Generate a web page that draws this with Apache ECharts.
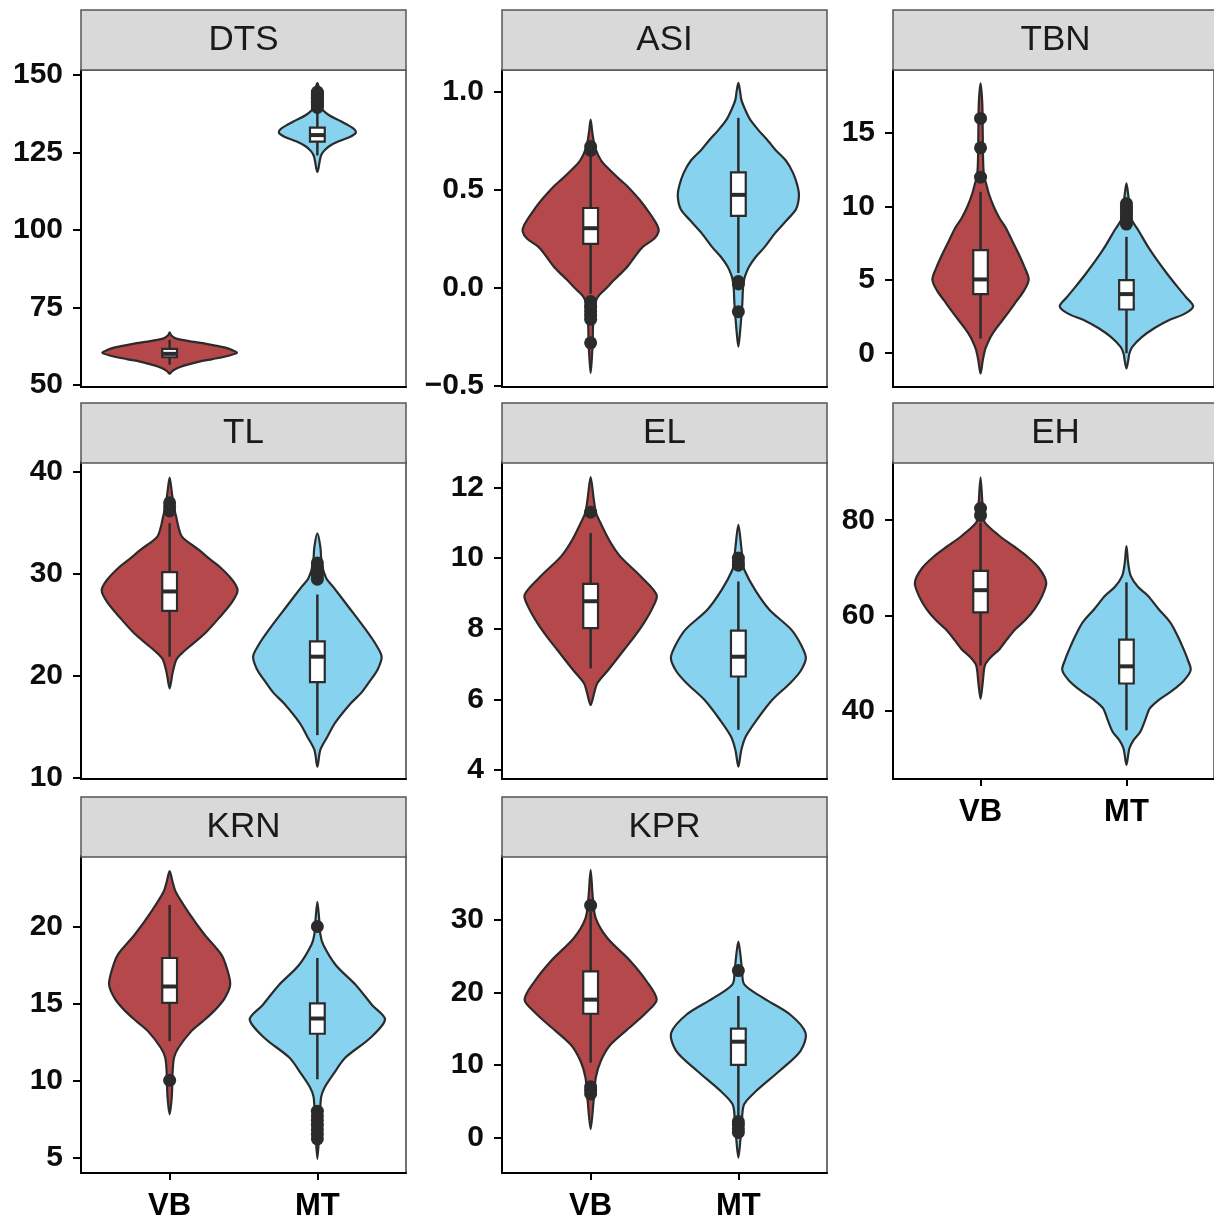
<!DOCTYPE html>
<html>
<head>
<meta charset="utf-8">
<title>Violin panels</title>
<script src="https://cdn.jsdelivr.net/npm/echarts@6.0.0/dist/echarts.min.js"></script>
<style>
  body { margin: 0; background: #fff; }
  #chart { width: 1214px; height: 1222px; }
</style>
</head>
<body>
<div id="chart"></div>
<script>
// panels and groups
const panelNames = ['DTS', 'ASI', 'TBN', 'TL', 'EL', 'EH', 'KRN', 'KPR'];
const groupNames = ['VB', 'MT'];

// y axis ticks and ranges per panel
const yTicks = [
  [50, 75, 100, 125, 150],
  [-0.5, 0, 0.5, 1],
  [0, 5, 10, 15],
  [10, 20, 30, 40],
  [4, 6, 8, 10, 12],
  [40, 60, 80],
  [5, 10, 15, 20],
  [0, 10, 20, 30]
];
const yTickLabels = [
  ['50', '75', '100', '125', '150'],
  ['\u22120.5', '0.0', '0.5', '1.0'],
  ['0', '5', '10', '15'],
  ['10', '20', '30', '40'],
  ['4', '6', '8', '10', '12'],
  ['40', '60', '80'],
  ['5', '10', '15', '20'],
  ['0', '10', '20', '30']
];
const yMin = [49.3, -0.505, -2.3, 9.9, 3.75, 25.8, 3.98, -4.9];
const yMax = [151.6, 1.11, 19.3, 41.0, 12.72, 92.2, 24.58, 38.8];

// violin outlines: [value, half width in category units], top to bottom
const vbViolins = [
  [[66.9,0],[66,0.01],[65,0.04],[64.2,0.12],[63.2,0.25],[62.1,0.37],[61.1,0.43],[60.3,0.455],[59.4,0.4],[58.3,0.29],[57.5,0.2],[56.7,0.135],[55.9,0.08],[55.1,0.04],[54.3,0.015],[53.6,0]],
  [[0.857,0],[0.8,0.01],[0.75,0.02],[0.704,0.035],[0.65,0.07],[0.6,0.13],[0.55,0.2],[0.517,0.25],[0.45,0.33],[0.38,0.4],[0.32,0.45],[0.287,0.46],[0.25,0.43],[0.21,0.355],[0.16,0.3],[0.109,0.25],[0.07,0.2],[0.041,0.16],[-0.01,0.095],[-0.044,0.05],[-0.08,0.03],[-0.14,0.022],[-0.2,0.016],[-0.28,0.014],[-0.36,0.008],[-0.434,0]],
  [[18.39,0],[17,0.012],[15,0.015],[13,0.018],[12,0.025],[11.5,0.04],[10.9,0.056],[10,0.09],[9.2,0.13],[8.6,0.17],[7.7,0.215],[6.8,0.26],[5.9,0.3],[5.03,0.33],[4.3,0.3],[3.6,0.25],[2.9,0.2],[2.25,0.15],[1.6,0.1],[1.1,0.068],[0.6,0.045],[0.2,0.03],[-0.5,0.015],[-1.38,0]],
  [[39.48,0],[38,0.015],[37,0.025],[36.2,0.035],[35.6,0.045],[34.6,0.06],[33.65,0.085],[32.35,0.2],[31.5,0.27],[30.7,0.34],[29.5,0.42],[28.43,0.46],[27.2,0.42],[25.8,0.34],[24.2,0.24],[22.9,0.135],[22.2,0.08],[21.6,0.045],[20.3,0.02],[18.8,0]],
  [[12.29,0],[11.7,0.02],[11.3,0.035],[11.09,0.056],[10.52,0.124],[10.05,0.2],[9.48,0.34],[8.96,0.447],[8.6,0.42],[8.16,0.36],[7.8,0.3],[7.4,0.225],[6.84,0.12],[6.46,0.045],[6.2,0.025],[5.84,0]],
  [[89,0],[84,0.012],[81,0.02],[79.5,0.03],[76.7,0.13],[74.5,0.23],[72.5,0.316],[70,0.4],[67,0.45],[64,0.42],[61.4,0.37],[59.2,0.31],[57.2,0.24],[55,0.18],[53,0.13],[51.3,0.07],[49.6,0.03],[46,0.015],[42.6,0]],
  [[23.6,0],[22.9,0.02],[22.27,0.04],[20.97,0.124],[19.46,0.237],[18.17,0.35],[17.2,0.39],[16.22,0.41],[15.3,0.37],[14.5,0.3],[13.8,0.22],[13.2,0.147],[12.12,0.06],[11.48,0.03],[10.5,0.02],[9,0.015],[7.8,0]],
  [[36.9,0],[33,0.015],[30.2,0.035],[27.5,0.113],[24.3,0.27],[21.5,0.38],[19,0.447],[17.3,0.38],[15.6,0.29],[12.8,0.135],[10.5,0.068],[8.25,0.035],[5,0.02],[1.15,0]]
];
const mtViolins = [
  [[147.4,0],[146,0.01],[144,0.015],[142,0.02],[140,0.025],[138.5,0.04],[137,0.08],[135.5,0.14],[134,0.2],[132.5,0.25],[131.3,0.26],[130,0.22],[128.5,0.14],[127,0.08],[125.5,0.045],[124,0.025],[122,0.015],[120,0.008],[118.7,0]],
  [[1.044,0],[1.0,0.012],[0.959,0.02],[0.91,0.045],[0.857,0.08],[0.8,0.14],[0.75,0.2],[0.704,0.25],[0.65,0.32],[0.586,0.37],[0.52,0.4],[0.466,0.41],[0.4,0.39],[0.347,0.33],[0.28,0.25],[0.21,0.18],[0.16,0.12],[0.109,0.073],[0.06,0.045],[0.024,0.035],[-0.02,0.03],[-0.061,0.028],[-0.1,0.025],[-0.147,0.02],[-0.22,0.012],[-0.3,0]],
  [[11.57,0],[10.8,0.012],[10,0.02],[9.2,0.03],[8.4,0.08],[7.3,0.145],[6.34,0.21],[5.4,0.28],[4.52,0.35],[3.8,0.41],[3.2,0.457],[2.7,0.4],[2.25,0.29],[1.7,0.19],[1.11,0.107],[0.43,0.04],[-0.02,0.02],[-0.5,0.012],[-1.04,0]],
  [[34,0],[32.7,0.02],[31,0.03],[29.6,0.06],[28.75,0.107],[26.8,0.21],[24.5,0.33],[23,0.4],[21.9,0.435],[20.7,0.41],[19.6,0.36],[18.4,0.3],[17.3,0.225],[15.4,0.12],[14.05,0.068],[12.75,0.02],[11.1,0]],
  [[10.94,0],[10.3,0.02],[9.9,0.03],[9.67,0.04],[9.1,0.113],[8.54,0.21],[7.97,0.36],[7.5,0.43],[7.17,0.457],[6.8,0.42],[6.46,0.35],[5.99,0.23],[5.42,0.124],[4.95,0.05],[4.57,0.02],[4.1,0]],
  [[74.6,0],[71,0.012],[68.3,0.03],[66,0.08],[64.2,0.147],[61.4,0.22],[58.6,0.3],[55.8,0.35],[53.1,0.39],[50.8,0.42],[48.6,0.44],[46.3,0.39],[44,0.3],[42.3,0.22],[40.6,0.16],[38.3,0.13],[35.7,0.095],[34,0.05],[32.2,0.02],[28.75,0]],
  [[21.6,0],[20.5,0.012],[19.5,0.02],[18.81,0.04],[17.5,0.124],[16.2,0.26],[14.9,0.37],[13.96,0.458],[12.77,0.36],[11.48,0.19],[10.4,0.108],[9.55,0.05],[8.9,0.025],[7,0.015],[4.9,0]],
  [[27,0],[25,0.015],[23,0.025],[21.1,0.04],[19.2,0.17],[16.95,0.35],[14.4,0.455],[11.9,0.42],[9.2,0.28],[6.4,0.12],[4.6,0.04],[2.76,0.025],[0,0.015],[-2.8,0]]
];

// boxplot stats: [lower whisker, q1, median, q3, upper whisker]
const vbBoxes = [
  [56.5, 58.9, 60, 61.6, 64.5],
  [-0.03, 0.224, 0.304, 0.407, 0.69],
  [1, 4.03, 5.03, 7.02, 11],
  [21.9, 26.4, 28.3, 30.2, 35],
  [6.88, 8.02, 8.78, 9.27, 10.71],
  [49.6, 60.7, 65.35, 69.4, 79.5],
  [12.55, 15.04, 16.1, 17.95, 21.4],
  [10.3, 17.05, 19.0, 22.9, 31.1]
];
const mtBoxes = [
  [124, 128.5, 130.6, 133, 138.3],
  [0.076, 0.367, 0.474, 0.588, 0.866],
  [0, 2.98, 4.03, 4.98, 7.93],
  [14.2, 19.4, 21.9, 23.4, 28],
  [5.14, 6.65, 7.21, 7.95, 9.34],
  [36, 45.8, 49.4, 55, 67],
  [10.07, 13.03, 14.02, 15.0, 17.95],
  [2.5, 10.0, 13.2, 15.0, 19.5]
];

// outliers
const vbOutliers = [
  [],
  [0.7, 0.72, -0.07, -0.09, -0.1, -0.12, -0.14, -0.16, -0.28],
  [12, 14, 16],
  [36.2, 36.6, 37],
  [11.3],
  [81, 82.5],
  [10],
  [32, 7, 6.5, 6]
];
const mtOutliers = [
  [139.5, 140, 140.5, 141, 141.5, 142, 142.5, 143, 143.5, 144, 144.5],
  [0.032, 0.02, -0.121],
  [8.8, 9, 9.2, 9.4, 9.6, 9.8, 10, 10.2],
  [29.5, 29.9, 30.3, 30.7, 31.1],
  [9.8, 9.9, 10],
  [],
  [20, 8, 7.7, 7.4, 7.1, 6.8, 6.5, 6.2],
  [23, 2.2, 1.7, 1.2, 0.7]
];

const fills = ['#b4484a', '#87d3ef'];
const ink = '#2b2b2b';
const font = '"Liberation Sans", Arial, sans-serif';

// layout
const colLeft = [81, 502, 893];
const stripTop = [10, 403, 797];
const plotTop = [70, 462, 856];
const plotHeight = [317, 317, 318];
const panelWidth = 325;
const stripHeight = 60;
const bottomPanels = [5, 6, 7];

const chart = echarts.init(document.getElementById('chart'));

const grids = [], xAxes = [], yAxes = [], series = [], graphics = [];

panelNames.forEach(function (name, i) {
  const row = Math.floor(i / 3), col = i % 3;
  const isBottom = bottomPanels.indexOf(i) >= 0;
  const axisLine = { color: '#000', width: 2 };

  grids.push({
    left: colLeft[col], top: plotTop[row], width: panelWidth, height: plotHeight[row],
    show: true, borderColor: '#444', borderWidth: 1.5, backgroundColor: '#fff'
  });

  xAxes.push({
    gridIndex: i, type: 'value', min: 0.4, max: 2.6,
    axisLine: { show: true, onZero: false, lineStyle: axisLine },
    splitLine: { show: false },
    axisTick: { show: isBottom, customValues: [1, 2], length: 7, lineStyle: axisLine },
    axisLabel: {
      show: isBottom, customValues: [1, 2], margin: 18,
      formatter: function (v) { return groupNames[Math.round(v) - 1]; },
      fontSize: 31, fontWeight: 'bold', color: '#000', fontFamily: font
    }
  });

  yAxes.push({
    gridIndex: i, type: 'value', min: yMin[i], max: yMax[i],
    axisLine: { show: true, onZero: false, lineStyle: axisLine },
    splitLine: { show: false },
    axisTick: { show: true, customValues: yTicks[i], length: 8, lineStyle: axisLine },
    axisLabel: {
      customValues: yTicks[i], margin: 18,
      formatter: function (v) {
        const k = yTicks[i].findIndex(function (t) { return Math.abs(t - v) < 1e-9; });
        return k >= 0 ? yTickLabels[i][k] : '';
      },
      fontSize: 30, fontWeight: 'bold', color: '#0d0d0d', fontFamily: font
    }
  });

  const centers = [[1, vbBoxes[i][2]], [2, mtBoxes[i][2]]];

  // violins
  series.push({
    type: 'custom', xAxisIndex: i, yAxisIndex: i, silent: true, data: centers,
    renderItem: function (params, api) {
      const prof = [vbViolins, mtViolins][params.dataIndex][i];
      const c = api.value(0);
      const right = prof.map(function (p) { return api.coord([c + p[1], p[0]]); });
      const left = prof.slice(1, -1).reverse().map(function (p) { return api.coord([c - p[1], p[0]]); });
      return {
        type: 'polygon',
        shape: { points: right.concat(left), smooth: 0.3 },
        style: { fill: fills[params.dataIndex], stroke: ink, lineWidth: 2.2 }
      };
    }
  });

  // boxplots
  series.push({
    type: 'custom', xAxisIndex: i, yAxisIndex: i, silent: true, data: centers,
    renderItem: function (params, api) {
      const b = [vbBoxes, mtBoxes][params.dataIndex][i];
      const c = api.value(0);
      const lo = api.coord([c, b[0]]), hi = api.coord([c, b[4]]);
      const q1 = api.coord([c - 0.05, b[1]]), q3 = api.coord([c + 0.05, b[3]]);
      const mL = api.coord([c - 0.05, b[2]]), mR = api.coord([c + 0.05, b[2]]);
      return {
        type: 'group',
        children: [
          { type: 'line', shape: { x1: lo[0], y1: lo[1], x2: hi[0], y2: hi[1] }, style: { stroke: ink, lineWidth: 2.5 } },
          { type: 'rect', shape: { x: q1[0], y: q3[1], width: q3[0] - q1[0], height: q1[1] - q3[1] }, style: { fill: '#fff', stroke: ink, lineWidth: 2.2 } },
          { type: 'line', shape: { x1: mL[0], y1: mL[1], x2: mR[0], y2: mR[1] }, style: { stroke: ink, lineWidth: 4 } }
        ]
      };
    }
  });

  // outliers
  series.push({
    type: 'scatter', xAxisIndex: i, yAxisIndex: i, silent: true,
    symbolSize: 13, itemStyle: { color: ink, opacity: 1 },
    data: vbOutliers[i].map(function (v) { return [1, v]; })
      .concat(mtOutliers[i].map(function (v) { return [2, v]; }))
  });

  // strip header
  graphics.push({
    type: 'rect', z: 10,
    shape: { x: colLeft[col], y: stripTop[row], width: panelWidth, height: stripHeight },
    style: { fill: '#d9d9d9', stroke: '#555', lineWidth: 1.5 }
  });
  graphics.push({
    type: 'text', z: 11,
    style: {
      text: name, x: colLeft[col] + panelWidth / 2, y: stripTop[row] + stripHeight / 2,
      align: 'center', verticalAlign: 'middle',
      fontSize: 35, fontFamily: font, fill: '#1a1a1a'
    }
  });
});

chart.setOption({
  backgroundColor: '#fff',
  animation: false,
  grid: grids,
  xAxis: xAxes,
  yAxis: yAxes,
  series: series,
  graphic: graphics
});
</script>
</body>
</html>
